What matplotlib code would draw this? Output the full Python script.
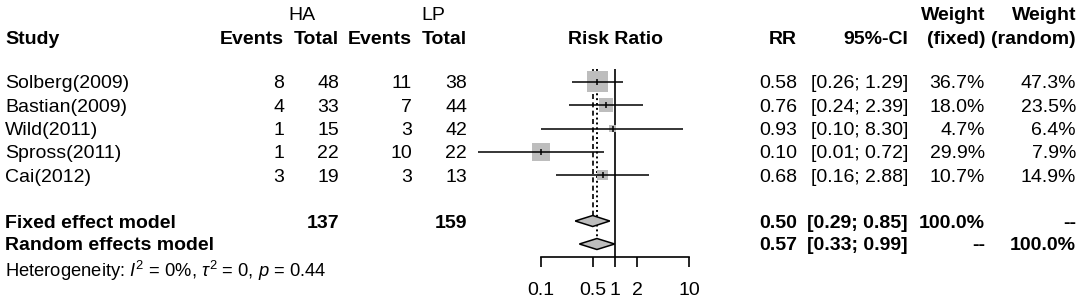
import numpy as np
import matplotlib
matplotlib.use("Agg")
import matplotlib.pyplot as plt
from matplotlib.patches import Polygon

plt.rcParams['font.family'] = ['Liberation Sans', 'DejaVu Sans']
plt.rcParams['mathtext.fontset'] = 'custom'
plt.rcParams['mathtext.rm'] = 'Liberation Sans'
plt.rcParams['mathtext.it'] = 'Liberation Sans:italic'

# ---------------- data ----------------
studies = ["Solberg(2009)", "Bastian(2009)", "Wild(2011)", "Spross(2011)", "Cai(2012)"]
events_ha = [8, 4, 1, 1, 3]
total_ha = [48, 33, 15, 22, 19]
events_lp = [11, 7, 3, 10, 3]
total_lp = [38, 44, 42, 22, 13]
rr = [0.58, 0.76, 0.93, 0.10, 0.68]
ci_lo = [0.26, 0.24, 0.10, 0.014, 0.16]
ci_hi = [1.29, 2.39, 8.30, 0.72, 2.88]
weight_fixed = [36.7, 18.0, 4.7, 29.9, 10.7]
weight_random = [47.3, 23.5, 6.4, 7.9, 14.9]
sum_ha = 137
sum_lp = 159
fixed_est, fixed_lo, fixed_hi = 0.50, 0.29, 0.85
random_est, random_lo, random_hi = 0.57, 0.33, 0.99
het_text = r"Heterogeneity: $I^2$ = 0%, $\tau^2$ = 0, $p$ = 0.44"
tick_values = [0.1, 0.5, 1, 2, 10]
tick_labels = ["0.1", "0.5", "1", "2", "10"]

# ---------------- layout ----------------
W, H = 1084, 304
fig = plt.figure(figsize=(W / 100, H / 100), dpi=100)
fs = 14

# text layer in pixel coordinates
axt = fig.add_axes([0, 0, 1, 1])
axt.set_xlim(0, W)
axt.set_ylim(H, 0)
axt.axis('off')

row_y = [81.5, 105, 128.5, 152, 175]
fixed_y = 221
random_y = 244
het_y = 268
hdr1_y = 14
hdr2_y = 37

x_study = 5
x_ev_ha, x_tot_ha, x_ev_lp, x_tot_lp = 284, 339, 412, 467
x_rr, x_ci, x_wf, x_wr = 797, 908, 985, 1076

def T(x, y, s, ha='right', bold=False, size=fs):
    axt.text(x, y, s, ha=ha, va='center_baseline', fontsize=size,
             fontweight='bold' if bold else 'normal')

# headers
T(302, hdr1_y, "HA", ha='center')
T(433, hdr1_y, "LP", ha='center')
T(x_wf, hdr1_y, "Weight", bold=True)
T(x_wr, hdr1_y, "Weight", bold=True)
T(x_study, hdr2_y, "Study", ha='left', bold=True)
T(x_ev_ha, hdr2_y, "Events", bold=True)
T(x_tot_ha, hdr2_y, "Total", bold=True)
T(x_ev_lp, hdr2_y, "Events", bold=True)
T(x_tot_lp, hdr2_y, "Total", bold=True)
T(615, hdr2_y, "Risk Ratio", ha='center', bold=True)
T(x_rr, hdr2_y, "RR", bold=True)
T(x_ci, hdr2_y, "95%-CI", bold=True)
T(x_wf, hdr2_y, "(fixed)", bold=True)
T(x_wr, hdr2_y, "(random)", bold=True)

for i, y in enumerate(row_y):
    T(x_study, y, studies[i], ha='left')
    T(x_ev_ha, y, str(events_ha[i]))
    T(x_tot_ha, y, str(total_ha[i]))
    T(x_ev_lp, y, str(events_lp[i]))
    T(x_tot_lp, y, str(total_lp[i]))
    T(x_rr, y, f"{rr[i]:.2f}")
    T(x_ci, y, f"[{ci_lo[i]:.2f}; {ci_hi[i]:.2f}]")
    T(x_wf, y, f"{weight_fixed[i]:.1f}%")
    T(x_wr, y, f"{weight_random[i]:.1f}%")

T(x_study, fixed_y, "Fixed effect model", ha='left', bold=True)
T(x_tot_ha, fixed_y, str(sum_ha), bold=True)
T(x_tot_lp, fixed_y, str(sum_lp), bold=True)
T(x_rr, fixed_y, f"{fixed_est:.2f}", bold=True)
T(x_ci, fixed_y, f"[{fixed_lo:.2f}; {fixed_hi:.2f}]", bold=True)
T(x_wf, fixed_y, "100.0%", bold=True)
T(x_wr, fixed_y, "--", bold=True)

T(x_study, random_y, "Random effects model", ha='left', bold=True)
T(x_rr, random_y, f"{random_est:.2f}", bold=True)
T(x_ci, random_y, f"[{random_lo:.2f}; {random_hi:.2f}]", bold=True)
T(x_wf, random_y, "--", bold=True)
T(x_wr, random_y, "100.0%", bold=True)

T(x_study, het_y, het_text, ha='left', size=13.2)

# ---------------- forest panel ----------------
fx0, fx1 = 460, 720
axf = fig.add_axes([fx0 / W, 0, (fx1 - fx0) / W, 1])
axf.patch.set_alpha(0)
axf.set_xscale('log')
# 0.1 at x=541 px, 10 at x=689 px (74 px per decade)
axf.set_xlim(10 ** (-1 - (541 - fx0) / 74), 10 ** (1 + (fx1 - 689) / 74))
axf.set_ylim(H, 0)
for s in ['top', 'left', 'right']:
    axf.spines[s].set_visible(False)
axf.spines['bottom'].set_position(('data', 256.5))
axf.spines['bottom'].set_bounds(tick_values[0], tick_values[-1])
axf.spines['bottom'].set_linewidth(1.2)
axf.set_yticks([])
axf.xaxis.set_minor_locator(matplotlib.ticker.NullLocator())
axf.set_xticks(tick_values)
axf.set_xticklabels(tick_labels, fontsize=fs)
axf.tick_params(axis='x', direction='out', length=7.2, width=1.2, pad=11)

top_line = 69
# reference and summary lines
axf.vlines(1, top_line, 256.5, color='black', lw=1.2)
axf.vlines(fixed_est, top_line, fixed_y - 6, color='black', lw=1.2,
           linestyles=(0, (3, 2)))
axf.vlines(random_est, top_line, random_y - 6, color='black', lw=1.4,
           linestyles=(0, (1, 1.5)))

# squares (area proportional to fixed weight)
sizes = [5.8 * w for w in weight_fixed]
axf.scatter(rr, row_y, s=sizes, marker='s', color='#bdbdbd', linewidths=0, zorder=2)
axf.hlines(row_y, ci_lo, ci_hi, color='black', lw=1.1, zorder=3)
axf.scatter(rr, row_y, s=25, marker='|', color='black', linewidths=1.1, zorder=4)

# diamonds
dh = 5.5
for est, lo, hi, y in [(fixed_est, fixed_lo, fixed_hi, fixed_y),
                       (random_est, random_lo, random_hi, random_y)]:
    axf.add_patch(Polygon([(lo, y), (est, y - dh), (hi, y), (est, y + dh)],
                          closed=True, facecolor='#bdbdbd', edgecolor='black',
                          lw=1.1, zorder=3))

fig.savefig("out.png", dpi=100)
